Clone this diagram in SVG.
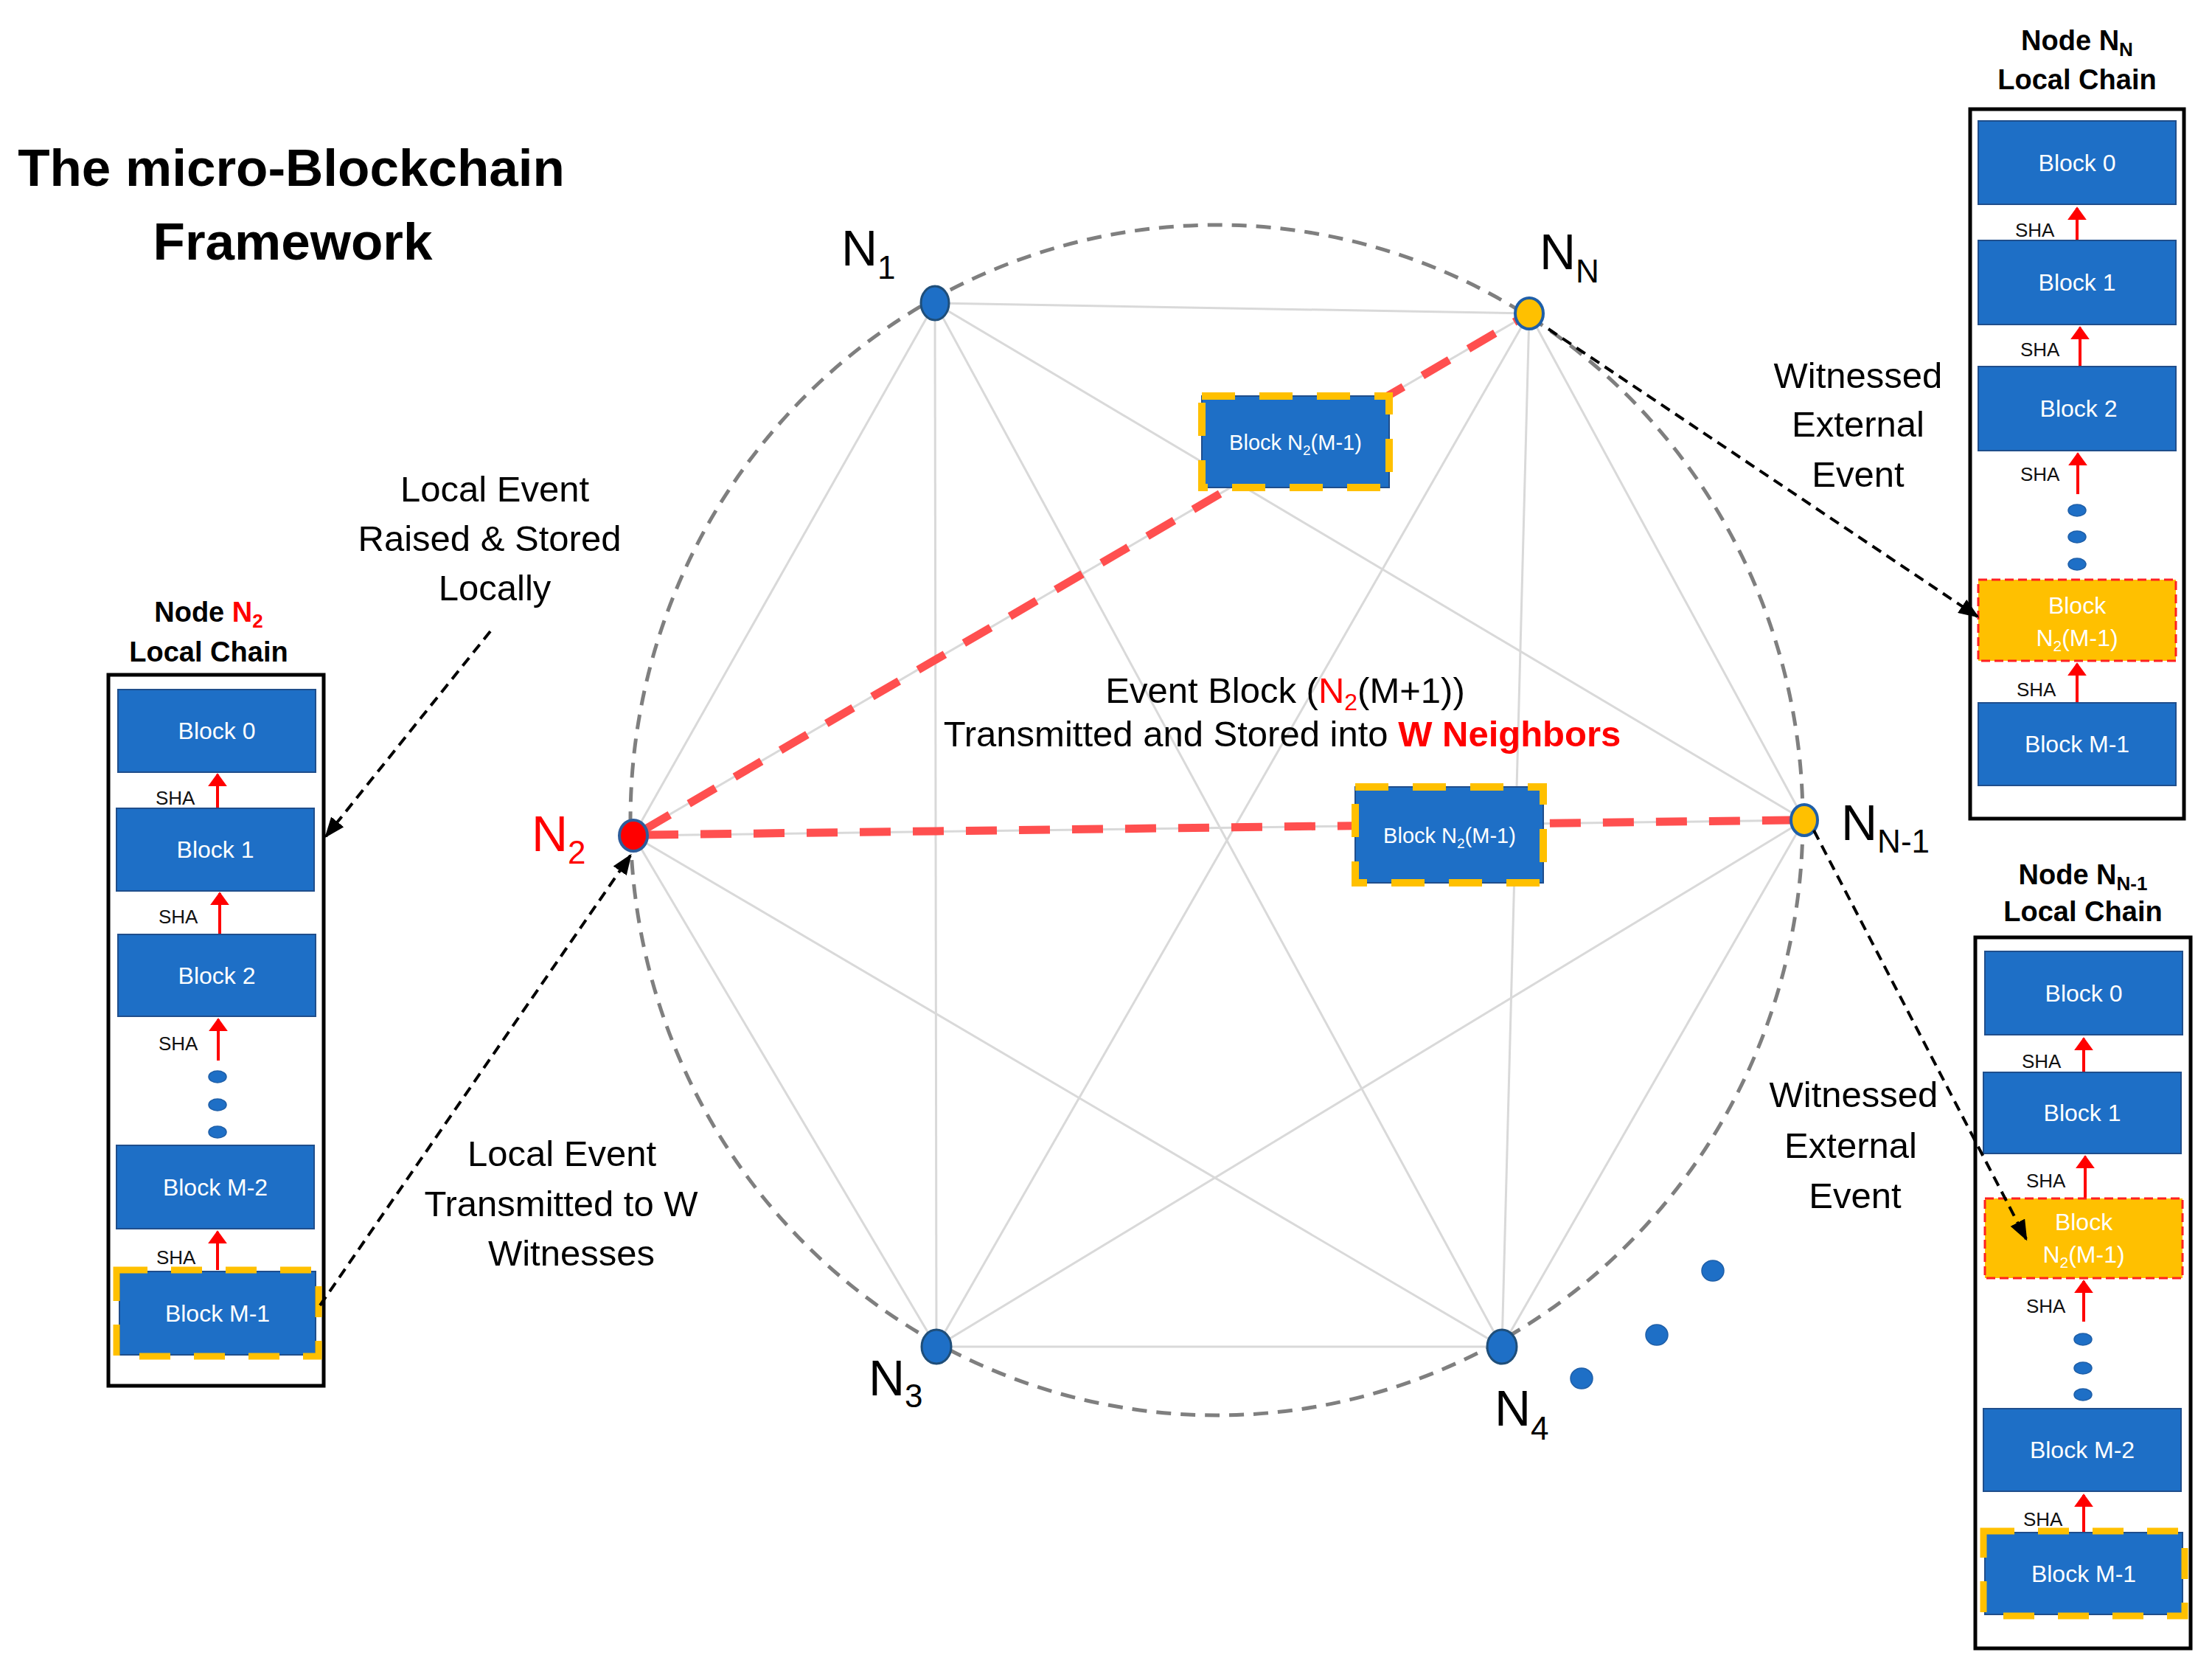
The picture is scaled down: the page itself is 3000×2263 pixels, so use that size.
<svg xmlns="http://www.w3.org/2000/svg" width="3000" height="2263" viewBox="0 0 3000 2263">
<defs>
<style>
text{font-family:"Liberation Sans",Arial,sans-serif;}
.blk{fill:#1E6FC6;stroke:#1F4E8C;stroke-width:2;}
.ylw{fill:#FFC000;stroke:#FF2020;stroke-width:3;stroke-dasharray:12 6;}
.ydash{fill:none;stroke:#FFC000;stroke-width:9;stroke-dasharray:42 32;}
.ydash2{fill:none;stroke:#FFC000;stroke-width:10;stroke-dasharray:45 33;}
.bt{fill:#FFFFFF;font-size:32px;text-anchor:middle;}
.bt2{fill:#FFFFFF;font-size:29px;text-anchor:middle;}
.sha{fill:#111;font-size:26px;}
.sa{stroke:#FF0000;stroke-width:4;fill:none;}
.dot{fill:#1E6FC6;stroke:#1F5FA8;stroke-width:1.5;}
.frame{fill:none;stroke:#000;stroke-width:5;}
.ttl{fill:#000;font-size:38px;font-weight:bold;text-anchor:middle;}
.lbl{fill:#000;font-size:49px;text-anchor:middle;}
.nl{fill:#000;font-size:68px;}
.edge{stroke:#D9D9D9;stroke-width:3;fill:none;}
.red{stroke:#FF4F4F;stroke-width:11;stroke-dasharray:42 30;fill:none;}
.blkarr{stroke:#000;stroke-width:4;stroke-dasharray:14 9;fill:none;}
.nb{fill:#1E6FC6;stroke:#1F4E79;stroke-width:3;}
.ny{fill:#FFC000;stroke:#1F5FA8;stroke-width:4;}
</style>
<marker id="ah" viewBox="0 0 10 10" refX="9" refY="5" markerWidth="28" markerHeight="22" markerUnits="userSpaceOnUse" orient="auto" preserveAspectRatio="none"><path d="M0,0 L10,5 L0,10 z" fill="#000"/></marker>
<marker id="rh" viewBox="0 0 10 10" refX="9" refY="5" markerWidth="18" markerHeight="26" markerUnits="userSpaceOnUse" orient="auto" preserveAspectRatio="none"><path d="M0,0 L10,5 L0,10 z" fill="#FF0000"/></marker>
</defs>
<rect x="0" y="0" width="3000" height="2263" fill="#FFFFFF"/>

<g id="title">
<text x="395" y="252" font-size="71" font-weight="bold" text-anchor="middle" fill="#000">The micro-Blockchain</text>
<text x="397" y="352" font-size="71" font-weight="bold" text-anchor="middle" fill="#000">Framework</text>
</g>

<g id="ring">
<ellipse cx="1650" cy="1112" rx="795" ry="807" fill="none" stroke="#7F7F7F" stroke-width="5" stroke-dasharray="20 13"/>
</g>

<g id="connectors">
<g id="mesh">
<line class="edge" x1="1268" y1="411" x2="2074" y2="425"/>
<line class="edge" x1="1268" y1="411" x2="859" y2="1133"/>
<line class="edge" x1="1268" y1="411" x2="2447" y2="1112"/>
<line class="edge" x1="1268" y1="411" x2="1270" y2="1826"/>
<line class="edge" x1="1268" y1="411" x2="2037" y2="1826"/>
<line class="edge" x1="2074" y1="425" x2="859" y2="1133"/>
<line class="edge" x1="2074" y1="425" x2="2447" y2="1112"/>
<line class="edge" x1="2074" y1="425" x2="1270" y2="1826"/>
<line class="edge" x1="2074" y1="425" x2="2037" y2="1826"/>
<line class="edge" x1="859" y1="1133" x2="2447" y2="1112"/>
<line class="edge" x1="859" y1="1133" x2="1270" y2="1826"/>
<line class="edge" x1="859" y1="1133" x2="2037" y2="1826"/>
<line class="edge" x1="2447" y1="1112" x2="1270" y2="1826"/>
<line class="edge" x1="2447" y1="1112" x2="2037" y2="1826"/>
<line class="edge" x1="1270" y1="1826" x2="2037" y2="1826"/>
</g>
<g id="broadcast">
<line class="red" x1="872" y1="1126" x2="2060" y2="433"/>
<line class="red" x1="878" y1="1132" x2="2428" y2="1112"/>
</g>
</g>

<g id="node-N1">
<ellipse class="nb" cx="1268" cy="411" rx="19" ry="23"/>
<text class="nl" x="1141" y="360">N<tspan font-size="44" dy="18">1</tspan></text>
</g>
<g id="node-NN">
<ellipse class="ny" cx="2074" cy="425" rx="19" ry="21"/>
<text class="nl" x="2088" y="365">N<tspan font-size="44" dy="18">N</tspan></text>
</g>
<g id="node-N2">
<ellipse cx="859" cy="1133" rx="19" ry="21" fill="#FF0000" stroke="#2E5C9A" stroke-width="4"/>
<text class="nl" x="721" y="1154" style="fill:#FF0000">N<tspan font-size="44" dy="17">2</tspan></text>
</g>
<g id="node-NN1">
<ellipse class="ny" cx="2447" cy="1112" rx="18" ry="21"/>
<text class="nl" x="2497" y="1139">N<tspan font-size="44" dy="17">N-1</tspan></text>
</g>
<g id="node-N3">
<ellipse class="nb" cx="1270" cy="1826" rx="20" ry="23"/>
<text class="nl" x="1178" y="1892">N<tspan font-size="44" dy="16">3</tspan></text>
</g>
<g id="node-N4">
<ellipse class="nb" cx="2037" cy="1826" rx="20" ry="23"/>
<text class="nl" x="2027" y="1933">N<tspan font-size="44" dy="19">4</tspan></text>
</g>
<g id="more-nodes">
<ellipse class="dot" cx="2145" cy="1869" rx="15" ry="14"/>
<ellipse class="dot" cx="2247" cy="1810" rx="15" ry="14"/>
<ellipse class="dot" cx="2323" cy="1723" rx="15" ry="14"/>
</g>

<g id="packet-top">
<rect class="blk" x="1630" y="537" width="254" height="124"/>
<rect class="ydash2" x="1630" y="537" width="254" height="124"/>
<text class="bt2" x="1757" y="610">Block N<tspan font-size="19" dy="7">2</tspan><tspan dy="-7">(M-1)</tspan></text>
</g>
<g id="packet-mid">
<rect class="blk" x="1838" y="1067" width="255" height="130"/>
<rect class="ydash2" x="1838" y="1067" width="255" height="130"/>
<text class="bt2" x="1966" y="1143">Block N<tspan font-size="19" dy="7">2</tspan><tspan dy="-7">(M-1)</tspan></text>
</g>

<g id="event-label">
<text class="lbl" x="1743" y="953">Event Block (<tspan fill="#FF0000">N</tspan><tspan fill="#FF0000" font-size="32" dy="10">2</tspan><tspan dy="-10">(M+1))</tspan></text>
<text class="lbl" x="1739" y="1012">Transmitted and Stored into <tspan fill="#FF0000" font-weight="bold">W Neighbors</tspan></text>
</g>

<g id="note-raised">
<text class="lbl" x="671" y="680">Local Event</text>
<text class="lbl" x="664" y="747">Raised &amp; Stored</text>
<text class="lbl" x="671" y="814">Locally</text>
</g>
<g id="note-transmitted">
<text class="lbl" x="762" y="1581">Local Event</text>
<text class="lbl" x="761" y="1649">Transmitted to W</text>
<text class="lbl" x="775" y="1716">Witnesses</text>
</g>
<g id="note-witness-top">
<text class="lbl" x="2520" y="526">Witnessed</text>
<text class="lbl" x="2520" y="592">External</text>
<text class="lbl" x="2520" y="660">Event</text>
</g>
<g id="note-witness-bottom">
<text class="lbl" x="2514" y="1501">Witnessed</text>
<text class="lbl" x="2510" y="1570">External</text>
<text class="lbl" x="2516" y="1638">Event</text>
</g>

<g id="chain-N2">
<text class="ttl" x="283" y="843">Node <tspan fill="#FF0000">N</tspan><tspan fill="#FF0000" font-size="26" dy="8">2</tspan></text>
<text class="ttl" x="283" y="897">Local Chain</text>
<rect class="frame" x="147" y="915" width="292" height="964"/>
<rect class="blk" x="160" y="935" width="268" height="112"/>
<text class="bt" x="294" y="1002">Block 0</text>
<text class="sha" x="211" y="1091">SHA</text>
<line class="sa" x1="295" y1="1096" x2="295" y2="1050" marker-end="url(#rh)"/>
<rect class="blk" x="158" y="1096" width="268" height="112"/>
<text class="bt" x="292" y="1163">Block 1</text>
<text class="sha" x="215" y="1252">SHA</text>
<line class="sa" x1="298" y1="1267" x2="298" y2="1211" marker-end="url(#rh)"/>
<rect class="blk" x="160" y="1267" width="268" height="111"/>
<text class="bt" x="294" y="1334">Block 2</text>
<text class="sha" x="215" y="1424">SHA</text>
<line class="sa" x1="296" y1="1438" x2="296" y2="1382" marker-end="url(#rh)"/>
<ellipse class="dot" cx="295" cy="1460" rx="12" ry="8"/>
<ellipse class="dot" cx="295" cy="1498" rx="12" ry="8"/>
<ellipse class="dot" cx="295" cy="1535" rx="12" ry="8"/>
<rect class="blk" x="158" y="1553" width="268" height="113"/>
<text class="bt" x="292" y="1621">Block M-2</text>
<text class="sha" x="212" y="1714">SHA</text>
<line class="sa" x1="295" y1="1722" x2="295" y2="1670" marker-end="url(#rh)"/>
<rect class="blk" x="162" y="1724" width="266" height="113"/>
<rect class="ydash" x="158" y="1722" width="274" height="117"/>
<text class="bt" x="295" y="1792">Block M-1</text>
</g>

<g id="chain-NN">
<text class="ttl" x="2817" y="68">Node N<tspan font-size="26" dy="8">N</tspan></text>
<text class="ttl" x="2817" y="121">Local Chain</text>
<rect class="frame" x="2672" y="148" width="290" height="962"/>
<rect class="blk" x="2683" y="164" width="268" height="113"/>
<text class="bt" x="2817" y="232">Block 0</text>
<text class="sha" x="2733" y="321">SHA</text>
<line class="sa" x1="2817" y1="326" x2="2817" y2="282" marker-end="url(#rh)"/>
<rect class="blk" x="2683" y="326" width="268" height="114"/>
<text class="bt" x="2817" y="394">Block 1</text>
<text class="sha" x="2740" y="483">SHA</text>
<line class="sa" x1="2821" y1="497" x2="2821" y2="444" marker-end="url(#rh)"/>
<rect class="blk" x="2683" y="497" width="268" height="114"/>
<text class="bt" x="2819" y="565">Block 2</text>
<text class="sha" x="2740" y="652">SHA</text>
<line class="sa" x1="2818" y1="670" x2="2818" y2="615" marker-end="url(#rh)"/>
<ellipse class="dot" cx="2817" cy="692" rx="12" ry="8"/>
<ellipse class="dot" cx="2817" cy="728" rx="12" ry="8"/>
<ellipse class="dot" cx="2817" cy="765" rx="12" ry="8"/>
<rect class="ylw" x="2683" y="786" width="268" height="110"/>
<text class="bt" x="2817" y="832">Block</text>
<text class="bt" x="2817" y="876">N<tspan font-size="21" dy="7">2</tspan><tspan dy="-7">(M-1)</tspan></text>
<text class="sha" x="2735" y="944">SHA</text>
<line class="sa" x1="2817" y1="953" x2="2817" y2="900" marker-end="url(#rh)"/>
<rect class="blk" x="2683" y="953" width="268" height="112"/>
<text class="bt" x="2817" y="1020">Block M-1</text>
</g>

<g id="chain-NN1">
<text class="ttl" x="2825" y="1199">Node N<tspan font-size="26" dy="8">N-1</tspan></text>
<text class="ttl" x="2825" y="1249">Local Chain</text>
<rect class="frame" x="2679" y="1271" width="292" height="964"/>
<rect class="blk" x="2692" y="1290" width="268" height="113"/>
<text class="bt" x="2826" y="1358">Block 0</text>
<text class="sha" x="2742" y="1448">SHA</text>
<line class="sa" x1="2826" y1="1454" x2="2826" y2="1408" marker-end="url(#rh)"/>
<rect class="blk" x="2690" y="1454" width="268" height="110"/>
<text class="bt" x="2824" y="1520">Block 1</text>
<text class="sha" x="2748" y="1610">SHA</text>
<line class="sa" x1="2828" y1="1625" x2="2828" y2="1568" marker-end="url(#rh)"/>
<rect class="ylw" x="2692" y="1625" width="268" height="108"/>
<text class="bt" x="2826" y="1668">Block</text>
<text class="bt" x="2826" y="1712">N<tspan font-size="21" dy="7">2</tspan><tspan dy="-7">(M-1)</tspan></text>
<text class="sha" x="2748" y="1780">SHA</text>
<line class="sa" x1="2826" y1="1792" x2="2826" y2="1737" marker-end="url(#rh)"/>
<ellipse class="dot" cx="2825" cy="1816" rx="12" ry="8"/>
<ellipse class="dot" cx="2825" cy="1855" rx="12" ry="8"/>
<ellipse class="dot" cx="2825" cy="1891" rx="12" ry="8"/>
<rect class="blk" x="2690" y="1910" width="268" height="112"/>
<text class="bt" x="2824" y="1977">Block M-2</text>
<text class="sha" x="2744" y="2069">SHA</text>
<line class="sa" x1="2826" y1="2077" x2="2826" y2="2027" marker-end="url(#rh)"/>
<rect class="blk" x="2692" y="2078" width="268" height="111"/>
<rect class="ydash" x="2690" y="2076" width="273" height="115"/>
<text class="bt" x="2826" y="2145">Block M-1</text>
</g>

<g id="pointer-connectors">
<line class="blkarr" x1="665" y1="856" x2="442" y2="1134" marker-end="url(#ah)"/>
<line class="blkarr" x1="434" y1="1770" x2="855" y2="1160" marker-end="url(#ah)"/>
<line class="blkarr" x1="2100" y1="446" x2="2682" y2="836" marker-end="url(#ah)"/>
<line class="blkarr" x1="2460" y1="1126" x2="2748" y2="1680" marker-end="url(#ah)"/>
</g>
</svg>
